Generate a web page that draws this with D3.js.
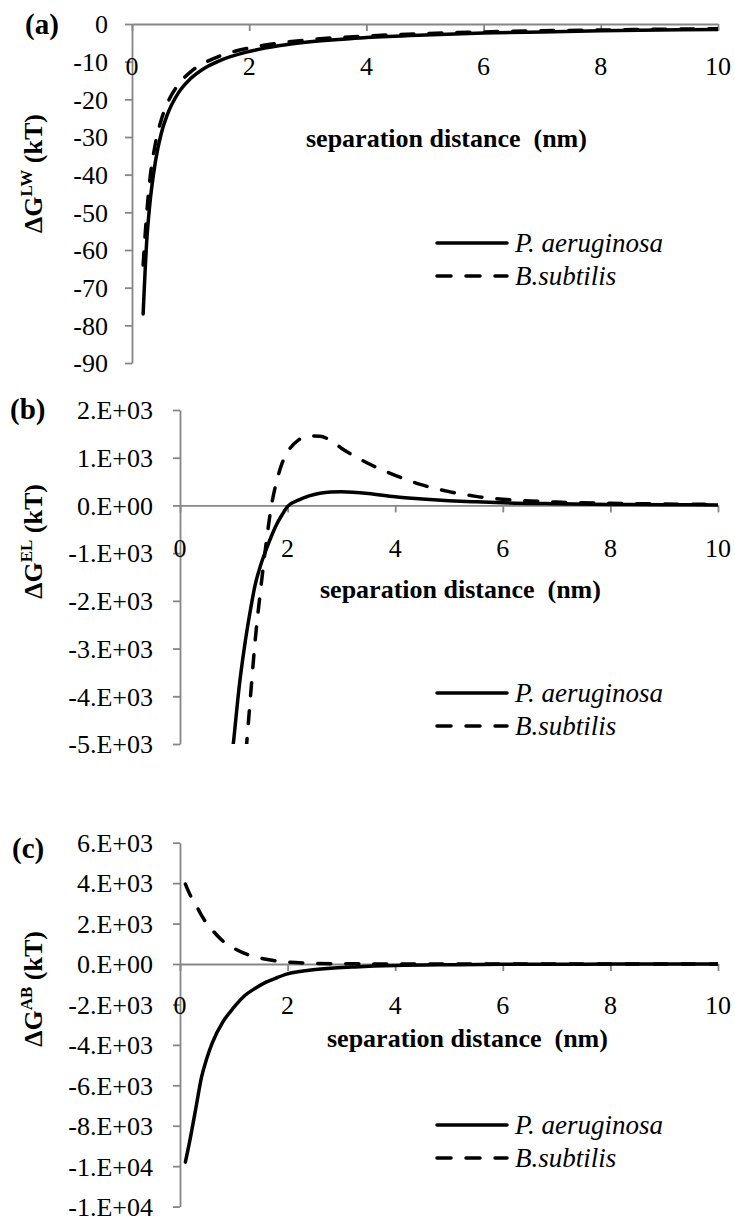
<!DOCTYPE html>
<html>
<head>
<meta charset="utf-8">
<script src="https://cdn.jsdelivr.net/npm/d3@7"></script>
<style>
  body { margin: 0; background: #fff; }
</style>
</head>
<body>
<svg id="chart" width="735" height="1221"></svg>
<script>
// ---- data ----
const xTicks = [0, 2, 4, 6, 8, 10];
const seriesNames = ["P. aeruginosa", "B.subtilis"];

// (a) Lifshitz-van der Waals
const lwDist = [0.19, 0.25, 0.3, 0.4, 0.5, 0.6, 0.8, 1, 1.25, 1.5, 2, 2.5, 3, 4, 5, 6, 7, 8, 9, 10];
const lwPaer = [-77, -58, -48.5, -36.5, -29, -24.2, -18.1, -14.5, -11.6, -9.7, -7.3, -5.8, -4.8, -3.6, -2.9, -2.4, -2.1, -1.8, -1.6, -1.45];
const lwBsub = [-64, -50.5, -42, -31.7, -25.4, -21.2, -15.9, -12.7, -10.2, -8.5, -6.35, -5.1, -4.2, -3.2, -2.55, -2.1, -1.8, -1.6, -1.4, -1.27];
const lwTicks = [0, -10, -20, -30, -40, -50, -60, -70, -80, -90];
const lwTickLabels = ["0", "-10", "-20", "-30", "-40", "-50", "-60", "-70", "-80", "-90"];

// (b) electrostatic
const elDistPaer = [0.9, 1.0, 1.1, 1.2, 1.3, 1.4, 1.5, 1.6, 1.7, 1.8, 1.9, 2.0, 2.2, 2.4, 2.6, 2.8, 3.0, 3.5, 4, 4.5, 5, 5.5, 6, 7, 8, 9, 10];
const elPaer = [-5900, -4900, -3800, -2950, -2250, -1650, -1250, -930, -640, -390, -190, -20, 110, 200, 255, 280, 285, 250, 180, 135, 100, 75, 55, 35, 22, 15, 10];
const elDistBsub = [1.1, 1.2, 1.3, 1.4, 1.5, 1.6, 1.7, 1.8, 1.9, 2.0, 2.2, 2.4, 2.6, 2.8, 3.0, 3.5, 4, 4.5, 5, 5.5, 6, 7, 8, 9, 10];
const elBsub = [-7500, -5600, -4150, -2800, -1750, -800, 0, 520, 890, 1120, 1370, 1455, 1450, 1360, 1200, 880, 630, 430, 290, 190, 130, 70, 45, 30, 20];
const elTicks = [2000, 1000, 0, -1000, -2000, -3000, -4000, -5000];
const elTickLabels = ["2.E+03", "1.E+03", "0.E+00", "-1.E+03", "-2.E+03", "-3.E+03", "-4.E+03", "-5.E+03"];

// (c) acid-base
const abDist = [0.1, 0.2, 0.3, 0.4, 0.5, 0.6, 0.8, 1.0, 1.2, 1.4, 1.6, 1.8, 2.0, 2.4, 2.8, 3.2, 3.6, 4, 5, 6, 7, 8, 9, 10];
const abPaer = [-9800, -8500, -7050, -5600, -4650, -3900, -2850, -2150, -1570, -1200, -900, -680, -490, -310, -210, -150, -100, -70, -35, -18, -9, -5, -3, -2];
const abBsub = [3950, 3350, 2900, 2400, 2000, 1680, 1130, 780, 520, 350, 235, 150, 95, 40, 15, 8, 5, 3, 1, 0, 0, 0, 0, 0];
const abTicks = [6000, 4000, 2000, 0, -2000, -4000, -6000, -8000, -10000, -12000];
const abTickLabels = ["6.E+03", "4.E+03", "2.E+03", "0.E+00", "-2.E+03", "-4.E+03", "-6.E+03", "-8.E+03", "-1.E+04", "-1.E+04"];

// ---- drawing ----
const svg = d3.select("#chart");
const FONT = "'Liberation Serif', 'DejaVu Serif', serif";
const AXIS_COLOR = "#868686";
const LINE_W = 3.5;
const DASH = "13,15";

function drawPanel(p) {
  const x = d3.scaleLinear().domain([0, 10]).range([p.left, 718]);
  const y = d3.scaleLinear().domain([p.yTicks[0], p.yTicks[p.yTicks.length - 1]]).range([p.top, p.bottom]);
  const g = svg.append("g");

  g.append("clipPath").attr("id", "clip-" + p.id)
    .append("rect").attr("x", p.left).attr("y", p.top)
    .attr("width", 718 - p.left).attr("height", p.bottom - p.top);

  // y axis
  const yAxis = d3.axisLeft(y)
    .tickValues(p.yTicks)
    .tickFormat((d, i) => p.yLabels[i])
    .tickSizeInner(7).tickSizeOuter(0)
    .tickPadding(p.yPad);
  const ya = g.append("g").attr("transform", `translate(${p.left},0)`).call(yAxis);
  ya.attr("font-family", null).attr("font-size", null);
  ya.selectAll("text").style("font-family", FONT).style("font-size", "26px").attr("dy", "0.34em");

  // x axis sits on y = 0
  const xAxis = d3.axisBottom(x).tickValues(xTicks).tickFormat("").tickSizeInner(7).tickSizeOuter(0);
  g.append("g").attr("transform", `translate(0,${y(0)})`).call(xAxis);

  g.selectAll(".domain, .tick line").attr("stroke", AXIS_COLOR).attr("stroke-width", 1.8);

  // x tick labels below the zero line
  g.selectAll(".xlab").data(xTicks).enter().append("text")
    .attr("x", d => x(d)).attr("y", p.xLabY)
    .attr("text-anchor", "middle")
    .style("font-family", FONT).style("font-size", "26px")
    .text(d => d);

  // curves
  const line = d3.line().x(d => x(d[0])).y(d => y(d[1])).curve(d3.curveMonotoneX);
  const curves = g.append("g").attr("clip-path", `url(#clip-${p.id})`);
  p.series.forEach((s, i) => {
    curves.append("path")
      .datum(d3.zip(s.x, s.y))
      .attr("d", line)
      .attr("fill", "none").attr("stroke", "#000")
      .attr("stroke-width", LINE_W)
      .attr("stroke-linecap", "round")
      .attr("stroke-dasharray", i === 1 ? DASH : null);
  });

  // axis titles
  g.append("text").attr("x", p.titleX).attr("y", p.titleY)
    .attr("xml:space", "preserve")
    .style("font-family", FONT).style("font-size", "26px").style("font-weight", "bold")
    .text("separation distance  (nm)");

  const yt = g.append("text")
    .attr("transform", `translate(${p.yTitleX},${p.yTitleY}) rotate(-90)`)
    .attr("text-anchor", "end")
    .style("font-family", FONT).style("font-size", "26px").style("font-weight", "bold");
  yt.append("tspan").text("ΔG");
  yt.append("tspan").attr("dy", -10).style("font-size", "17px").text(p.sup);
  yt.append("tspan").attr("dy", 10).attr("xml:space", "preserve").text(" (kT)");

  // panel letter
  g.append("text").attr("x", p.letterX).attr("y", p.letterY)
    .style("font-family", FONT).style("font-size", "29px").style("font-weight", "bold").text(p.letter);

  // legend
  seriesNames.forEach((name, i) => {
    const ly = p.legY + i * 33;
    g.append("line").attr("x1", 437).attr("x2", 507).attr("y1", ly).attr("y2", ly)
      .attr("stroke", "#000").attr("stroke-width", LINE_W)
      .attr("stroke-linecap", "round")
      .attr("stroke-dasharray", i === 1 ? "14,15" : null);
    g.append("text").attr("x", 515).attr("y", ly + 9)
      .style("font-family", FONT).style("font-size", "27px").style("font-style", "italic").text(name);
  });
}

drawPanel({
  id: "a", left: 132, top: 24, bottom: 363, yPad: 17,
  yTicks: lwTicks, yLabels: lwTickLabels, xLabY: 75,
  series: [{ x: lwDist, y: lwPaer }, { x: lwDist, y: lwBsub }],
  titleX: 306, titleY: 147, yTitleX: 42, yTitleY: 114, sup: "LW",
  letter: "(a)", letterX: 25, letterY: 34, legY: 243
});

drawPanel({
  id: "b", left: 180, top: 410, bottom: 744, yPad: 20,
  yTicks: elTicks, yLabels: elTickLabels, xLabY: 557,
  series: [{ x: elDistPaer, y: elPaer }, { x: elDistBsub, y: elBsub }],
  titleX: 320, titleY: 598, yTitleX: 42, yTitleY: 484, sup: "EL",
  letter: "(b)", letterX: 10, letterY: 419, legY: 693
});

drawPanel({
  id: "c", left: 180, top: 842.7, bottom: 1206.6, yPad: 20,
  yTicks: abTicks, yLabels: abTickLabels, xLabY: 1014,
  series: [{ x: abDist, y: abPaer }, { x: abDist, y: abBsub }],
  titleX: 327, titleY: 1047, yTitleX: 42, yTitleY: 931, sup: "AB",
  letter: "(c)", letterX: 12, letterY: 858, legY: 1125
});
</script>
</body>
</html>
